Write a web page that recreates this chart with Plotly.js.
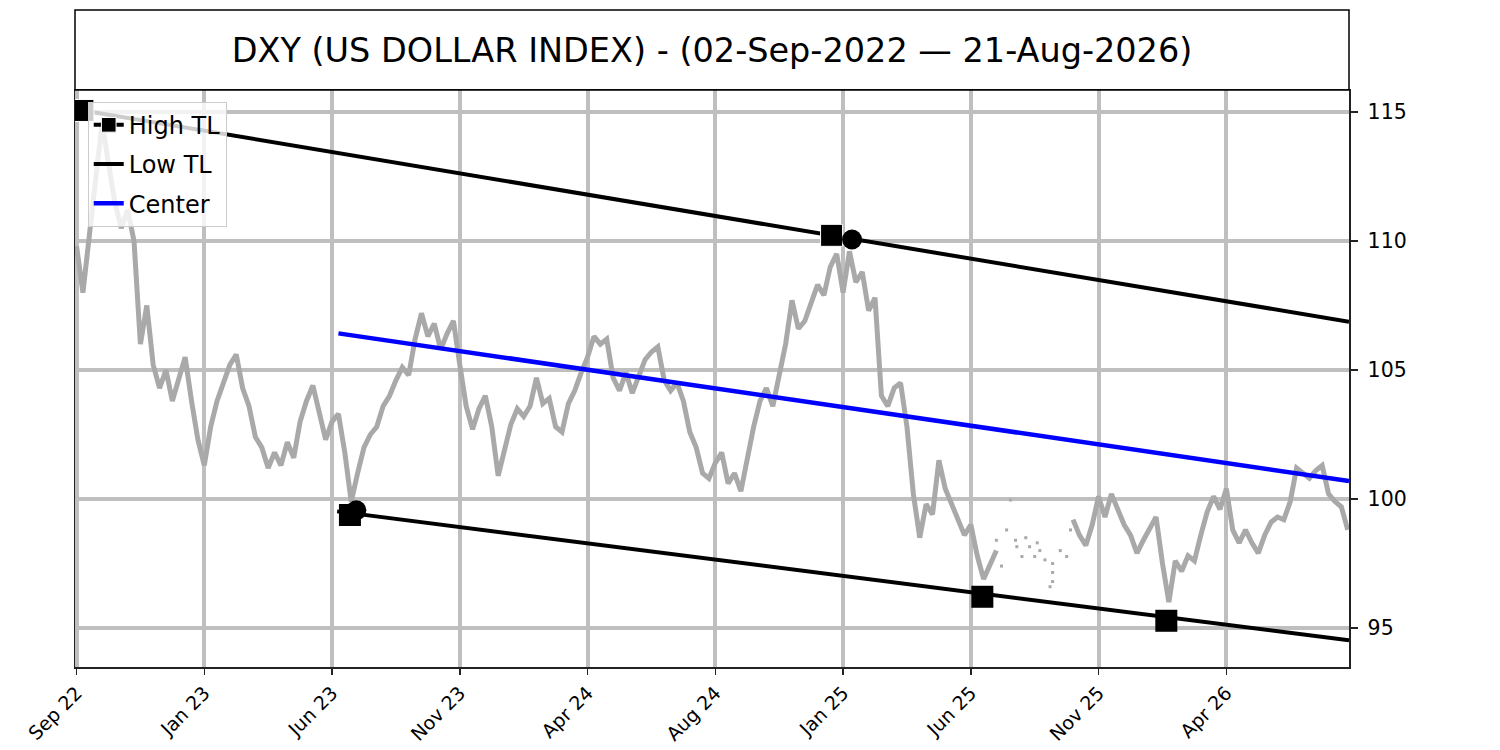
<!DOCTYPE html>
<html>
<head>
<meta charset="utf-8">
<script src="https://cdn.plot.ly/plotly-3.0.1.min.js"></script>
<style>
  body { margin: 0; background: #fff; }
  #chart { width: 1500px; height: 750px; }
</style>
</head>
<body>
<div id="chart"></div>
<script>
// bar index step between price samples
const STEP = 5;

// DXY close, one value every 5 bars (null = gap with sparse prints)
const price = [
  109.8, 108.0, 110.2, 112.6, 114.6, 113.0, 111.5, 110.5, 111.2, 110.0,
  106.0, 107.5, 105.2, 104.3, 105.0, 103.8, 104.6, 105.5, 103.8, 102.3,
  101.3, 102.8, 103.8, 104.5, 105.2, 105.6, 104.3, 103.6, 102.4, 102.0,
  101.2, 101.8, 101.3, 102.2, 101.6, 103.0, 103.8, 104.4, 103.4, 102.3,
  103.0, 103.3, 101.8, 99.9, 101.0, 102.0, 102.5, 102.8, 103.6, 104.0,
  104.6, 105.1, 104.8, 106.2, 107.2, 106.3, 106.8, 105.8, 106.4, 106.9,
  105.2, 103.6, 102.7, 103.5, 104.0, 102.8, 100.9, 102.0, 102.9, 103.5,
  103.2, 103.6, 104.7, 103.7, 103.9, 102.8, 102.6, 103.7, 104.2, 104.9,
  105.5, 106.3, 106.0, 106.2, 104.7, 104.2, 104.9, 104.1, 104.7, 105.4,
  105.7, 105.9, 104.6, 104.2, 104.5, 103.8, 102.6, 102.0, 101.0, 100.8,
  101.4, 101.8, 100.6, 101.0, 100.3, 101.6, 102.8, 103.8, 104.3, 103.6,
  104.8, 106.0, 107.7, 106.6, 106.9, 107.6, 108.3, 107.9, 109.0, 109.5,
  108.0, 109.6, 108.4, 108.8, 107.3, 107.8, 104.0, 103.6, 104.3, 104.5,
  102.8, 100.2, 98.5, 99.8, 99.4, 101.5, 100.4, 99.8, 99.2, 98.6,
  99.0, 97.8, 96.9, 97.5, 98.0, null, null, null, null, null,
  null, null, null, null, null, null, 99.2, 98.6, 98.2, 99.0,
  100.1, 99.3, 100.2, 99.6, 99.0, 98.6, 97.9, 98.4, 98.9, 99.3,
  97.5, 96.0, 97.6, 97.2, 97.8, 97.6, 98.6, 99.5, 100.1, 99.6,
  100.4, 98.8, 98.3, 98.8, 98.3, 97.9, 98.6, 99.1, 99.3, 99.2,
  99.9, 101.2, 101.0, 100.8, 101.1, 101.3, 100.2, 99.9, 99.7, 98.8
];

// scattered prints inside the gap
const sparseX = [720, 724, 728, 731, 735, 736, 740, 743, 746, 750, 752, 754, 758, 762, 764, 764, 764, 770, 775, 778];
const sparseY = [98.4, 97.4, 98.8, 99.96, 98.4, 98.15, 97.77, 98.5, 98.15, 97.77, 98.3, 98.0, 97.64, 96.6, 97.5, 97.15, 96.8, 98.0, 97.77, 98.8];

// trend lines
const highTLX = [5, 591, 996];
const highTLY = [115.06, 110.22, 106.87];
const lowTLX = [204, 996];
const lowTLY = [99.52, 94.52];
const centerX = [205, 996];
const centerY = [106.42, 100.70];

// pivots
const pivotSqX = [214, 709, 853];
const pivotSqY = [99.38, 96.21, 95.28];
const pivotCircX = [219, 607];
const pivotCircY = [99.56, 110.06];

// x axis ticks (bar index)
const tickIdx = [0, 100, 200, 300, 400, 500, 600, 700, 800, 900];
const tickText = ['Sep 22', 'Jan 23', 'Jun 23', 'Nov 23', 'Apr 24', 'Aug 24', 'Jan 25', 'Jun 25', 'Nov 25', 'Apr 26'];
const yTicks = [95, 100, 105, 110, 115];

const priceX = price.map((v, i) => i * STEP);

const traces = [
  {
    x: priceX, y: price, type: 'scatter', mode: 'lines',
    line: {color: '#a9a9a9', width: 5}, connectgaps: false,
    showlegend: false, hoverinfo: 'skip'
  },
  {
    x: sparseX, y: sparseY, type: 'scatter', mode: 'markers',
    marker: {color: '#a9a9a9', size: 3, symbol: 'square'},
    showlegend: false, hoverinfo: 'skip'
  },
  {
    x: highTLX, y: highTLY, type: 'scatter', mode: 'lines+markers', name: 'High TL',
    legendgroup: 'a',
    line: {color: 'black', width: 4},
    marker: {color: 'black', symbol: 'square', size: [22, 22, 0], opacity: 1}
  },
  {
    x: lowTLX, y: lowTLY, type: 'scatter', mode: 'lines', name: 'Low TL',
    legendgroup: 'b',
    line: {color: 'black', width: 4}
  },
  {
    x: centerX, y: centerY, type: 'scatter', mode: 'lines', name: 'Center',
    legendgroup: 'c',
    line: {color: 'blue', width: 4.5}
  },
  {
    x: pivotSqX, y: pivotSqY, type: 'scatter', mode: 'markers',
    marker: {color: 'black', symbol: 'square', size: 22, opacity: 1},
    showlegend: false, hoverinfo: 'skip'
  },
  {
    x: pivotCircX, y: pivotCircY, type: 'scatter', mode: 'markers',
    marker: {color: 'black', symbol: 'circle', size: 20, opacity: 1},
    showlegend: false, hoverinfo: 'skip'
  }
];

const plotH = 577;

const layout = {
  width: 1500, height: 750,
  margin: {l: 75, r: 151, t: 90, b: 83},
  paper_bgcolor: 'white', plot_bgcolor: 'white',
  font: {family: 'DejaVu Sans', color: 'black', size: 20},
  title: {
    text: 'DXY (US DOLLAR INDEX) - (02-Sep-2022 \u2014 21-Aug-2026)',
    font: {family: 'DejaVu Sans', size: 33.5, color: 'black'},
    xref: 'paper', x: 0.5, xanchor: 'center',
    yref: 'container', y: 1 - 50 / 750, yanchor: 'middle'
  },
  shapes: [{
    type: 'rect', xref: 'paper', yref: 'paper',
    x0: 0, x1: 1, y0: 1, y1: 1 + 80 / plotH,
    line: {color: 'black', width: 1.5}
  }],
  xaxis: {
    range: [-1.2, 996],
    tickmode: 'array', tickvals: tickIdx, ticktext: tickText,
    tickangle: -45, tickfont: {size: 19},
    showgrid: true, gridcolor: '#bfbfbf', gridwidth: 4,
    zeroline: false,
    showline: true, mirror: true, linecolor: '#222', linewidth: 1.5,
    ticks: 'outside', ticklen: 6, tickwidth: 1.5, tickcolor: '#222'
  },
  yaxis: {
    side: 'right',
    range: [93.488, 115.853],
    tickmode: 'array', tickvals: yTicks,
    tickfont: {size: 20.5},
    ticklabelstandoff: 6,
    showgrid: true, gridcolor: '#bfbfbf', gridwidth: 4,
    zeroline: false,
    showline: true, mirror: true, linecolor: '#222', linewidth: 1.5,
    ticks: 'outside', ticklen: 7, tickwidth: 1.5, tickcolor: '#222'
  },
  legend: {
    x: 0.01, y: 0.9797, xanchor: 'left', yanchor: 'top',
    bgcolor: 'rgba(255,255,255,0.8)', bordercolor: '#cccccc', borderwidth: 1,
    font: {size: 24, family: 'DejaVu Sans'},
    itemwidth: 30, tracegroupgap: 5
  },
  hovermode: false
};

Plotly.newPlot('chart', traces, layout, {displayModeBar: false, staticPlot: true});
</script>
</body>
</html>
